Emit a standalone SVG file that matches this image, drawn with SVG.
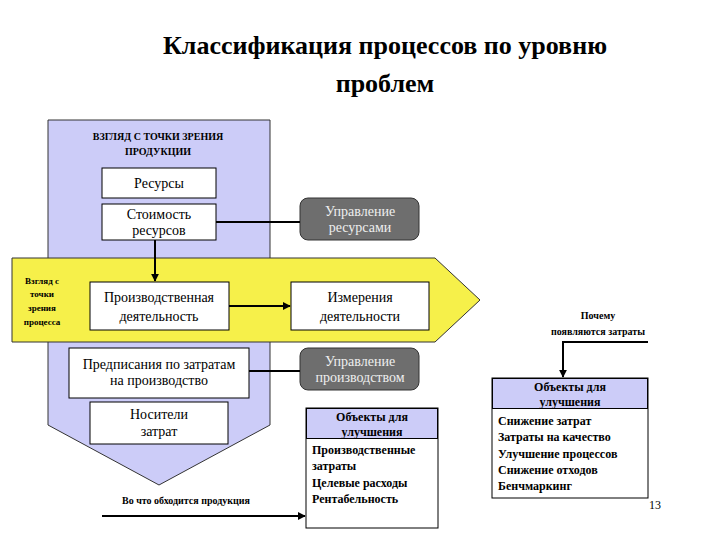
<svg xmlns="http://www.w3.org/2000/svg" width="720" height="540" viewBox="0 0 720 540" font-family="'Liberation Serif', 'DejaVu Serif', serif">
<defs>
<style>
text{font-family:'Liberation Serif','DejaVu Serif',serif}
.b{fill:#fff;stroke:#000;stroke-width:1}
.g{fill:#6e6e6e;stroke:#333;stroke-width:1}
.t{font-size:14px;text-anchor:middle;fill:#000}
.w{font-size:14px;text-anchor:middle;fill:#eee}
.sm{font-size:10px;font-weight:bold;text-anchor:middle}
.bl{font-size:12px;font-weight:bold}
.c{stroke:#000;stroke-width:2;fill:none}
</style>
<marker id="a" viewBox="0 0 10 10" refX="9" refY="5" markerWidth="4" markerHeight="4" orient="auto"><path d="M0,0L10,5L0,10z" fill="#000"/></marker>
</defs>
<rect width="720" height="540" fill="#fff"/>
<text x="385" y="54" font-size="26" font-weight="bold" text-anchor="middle">Классификация процессов по уровню</text>
<text x="385" y="92" font-size="26" font-weight="bold" text-anchor="middle">проблем</text>
<g id="product-view"><path d="M48,120H270V425L159,485L48,425Z" fill="#ccccf8" stroke="#333"/>
<text class="sm" x="158" y="140">ВЗГЛЯД С ТОЧКИ ЗРЕНИЯ</text><text class="sm" x="158" y="155">ПРОДУКЦИИ</text></g>
<g id="process-view"><path d="M12,258H435L480,300L435,342H12Z" fill="#f6f04a" stroke="#333"/>
<text font-size="9" font-weight="bold" text-anchor="middle"><tspan x="42" y="284">Взгляд с</tspan><tspan x="42" y="297">точки</tspan><tspan x="42" y="311">зрения</tspan><tspan x="42" y="325">процесса</tspan></text></g>
<g id="resources"><rect class="b" x="102" y="168" width="114" height="30"/><text class="t" x="159" y="188">Ресурсы</text></g>
<g id="cost"><rect class="b" x="102" y="204" width="114" height="36"/><text class="t" x="159" y="219">Стоимость</text><text class="t" x="159" y="235">ресурсов</text></g>
<g id="prod"><rect class="b" x="90" y="282" width="139" height="48"/><text class="t" x="159" y="302">Производственная</text><text class="t" x="159" y="321">деятельность</text></g>
<g id="meas"><rect class="b" x="291" y="282" width="138" height="48"/><text class="t" x="360" y="302">Измерения</text><text class="t" x="360" y="321">деятельности</text></g>
<g id="presc"><rect class="b" x="69" y="348" width="180" height="50"/><text class="t" x="159" y="369">Предписания по затратам</text><text class="t" x="159" y="385">на производство</text></g>
<g id="carriers"><rect class="b" x="90" y="402" width="138" height="42"/><text class="t" x="159" y="419">Носители</text><text class="t" x="159" y="436">затрат</text></g>
<g id="mres"><rect class="g" x="300" y="198" width="119" height="42" rx="8"/><text class="w" x="360" y="216">Управление</text><text class="w" x="360" y="232">ресурсами</text></g>
<g id="mprod"><rect class="g" x="300" y="348" width="119" height="42" rx="8"/><text class="w" x="360" y="366">Управление</text><text class="w" x="360" y="382">производством</text></g>
<g id="obj1"><rect class="b" x="306" y="408" width="132" height="120"/><rect x="306.5" y="408.5" width="131" height="30" fill="#ccccf8" stroke="#000"/>
<text class="bl" x="372" y="421" text-anchor="middle">Объекты для</text><text class="bl" x="372" y="436" text-anchor="middle">улучшения</text>
<text class="bl" x="312" y="454">Производственные</text><text class="bl" x="312" y="470">затраты</text><text class="bl" x="312" y="487">Целевые расходы</text><text class="bl" x="312" y="503">Рентабельность</text></g>
<g id="obj2"><rect class="b" x="492" y="378" width="156" height="120"/><rect x="492.5" y="378.5" width="155" height="30" fill="#ccccf8" stroke="#000"/>
<text class="bl" x="570" y="391" text-anchor="middle">Объекты для</text><text class="bl" x="570" y="406" text-anchor="middle">улучшения</text>
<text class="bl" x="498" y="425">Снижение затрат</text><text class="bl" x="498" y="441">Затраты на качество</text><text class="bl" x="498" y="458">Улучшение процессов</text><text class="bl" x="498" y="474">Снижение отходов</text><text class="bl" x="498" y="490">Бенчмаркинг</text></g>
<g id="labels"><text class="sm" x="186" y="504">Во что обходится продукция</text>
<text class="sm" x="598" y="319">Почему</text><text class="sm" x="598" y="335">появляются затраты</text>
<text x="655" y="509" font-size="12" text-anchor="middle">13</text></g>
<g id="connectors">
<path class="c" d="M155,240V281" marker-end="url(#a)"/>
<path class="c" d="M229,306H290" marker-end="url(#a)"/>
<path class="c" d="M216,222H300"/>
<path class="c" d="M249,371H300"/>
<path class="c" d="M102,516H305" marker-end="url(#a)"/>
<path class="c" d="M648,342H563V377" marker-end="url(#a)"/>
</g>
</svg>
